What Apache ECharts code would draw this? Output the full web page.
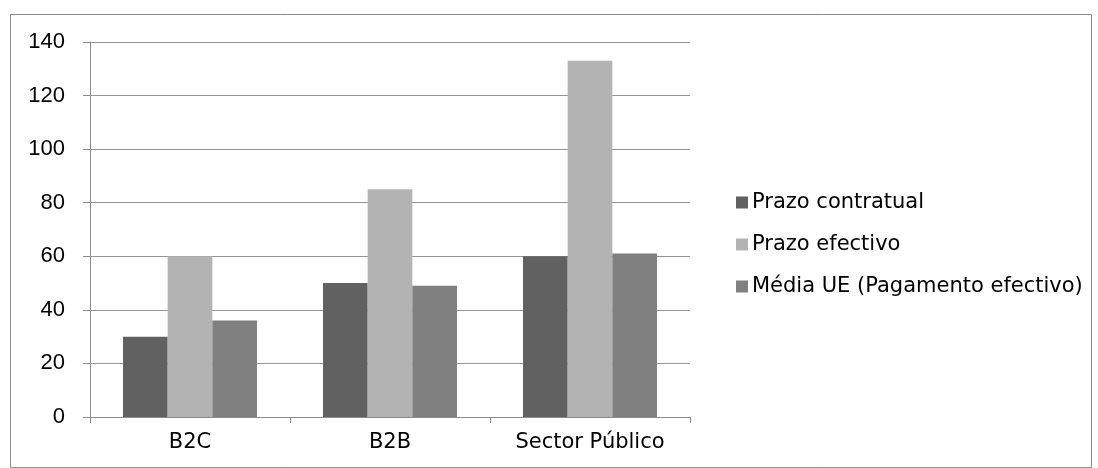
<!DOCTYPE html>
<html>
<head>
<meta charset="utf-8">
<style>
  html, body { margin: 0; padding: 0; background: #fff; }
  #chart { width: 1098px; height: 468px; }
</style>
<script src="https://cdn.jsdelivr.net/npm/echarts@6/dist/echarts.min.js"></script>
</head>
<body>
<div id="chart"></div>
<script>
// categorias e valores (dias)
var categories = ['B2C', 'B2B', 'Sector Público'];
var seriesNames = ['Prazo contratual', 'Prazo efectivo', 'Média UE (Pagamento efectivo)'];
var contratual = [30, 50, 60];
var efectivo = [60, 85, 133];
var mediaUE = [36, 49, 61];
var yTicks = [0, 20, 40, 60, 80, 100, 120, 140];

var colorList = ['#616161', '#b3b3b3', '#808080'];

var myChart = echarts.init(document.getElementById('chart'));

var option = {
  animation: false,
  color: colorList,
  graphic: [{
    type: 'rect',
    left: 8,
    top: 12,
    shape: { width: 1081, height: 453 },
    style: { fill: 'none', stroke: '#8c8c8c', lineWidth: 1 },
    silent: true
  }],
  legend: {
    orient: 'vertical',
    left: 731,
    top: 187,
    icon: 'rect',
    itemWidth: 12,
    itemHeight: 12,
    itemGap: 21,
    textStyle: {
      fontFamily: 'DejaVu Sans',
      fontSize: 21,
      color: '#000',
      padding: [0, 0, 0, -1]
    },
    data: seriesNames
  },
  grid: {
    left: 90,
    right: 408,
    top: 42,
    bottom: 51,
    containLabel: false
  },
  xAxis: {
    type: 'category',
    data: categories,
    axisLine: { lineStyle: { color: '#8c8c8c' } },
    axisTick: { show: true, length: 6, lineStyle: { color: '#8c8c8c' } },
    axisLabel: {
      fontFamily: 'DejaVu Sans',
      fontSize: 21,
      color: '#000',
      margin: 15
    }
  },
  yAxis: {
    type: 'value',
    min: yTicks[0],
    max: yTicks[yTicks.length - 1],
    interval: 20,
    axisLine: { show: true, lineStyle: { color: '#8c8c8c' } },
    axisTick: { show: true, length: 7, lineStyle: { color: '#8c8c8c' } },
    splitLine: { lineStyle: { color: '#969696' } },
    axisLabel: {
      fontFamily: 'Liberation Sans',
      fontSize: 22,
      color: '#000',
      margin: 25
    }
  },
  series: [{
    name: seriesNames[0],
    type: 'bar',
    data: contratual,
    barGap: '0%',
    barCategoryGap: '33%'
  }, {
    name: seriesNames[1],
    type: 'bar',
    data: efectivo,
    barGap: '0%',
    barCategoryGap: '33%'
  }, {
    name: seriesNames[2],
    type: 'bar',
    data: mediaUE,
    barGap: '0%',
    barCategoryGap: '33%'
  }]
};

myChart.setOption(option, true);
</script>
</body>
</html>
